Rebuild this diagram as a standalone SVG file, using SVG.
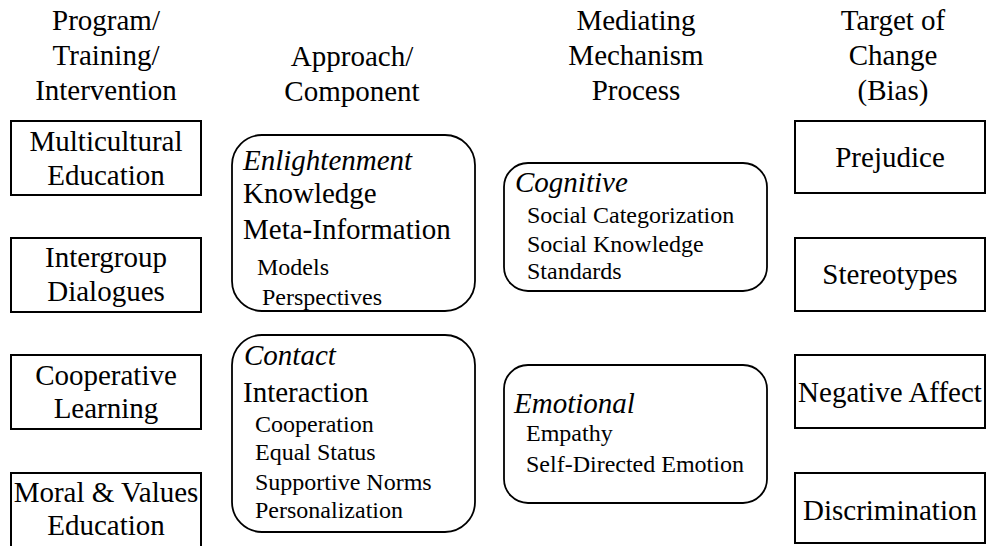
<svg xmlns="http://www.w3.org/2000/svg" width="987" height="546" viewBox="0 0 987 546">
  <rect width="987" height="546" fill="#fff"/>

  <!-- column headings -->
  <g id="headers">
    <text x="106" y="30" style="font-family:'Liberation Serif';font-size:29px;text-anchor:middle">Program/</text>
    <text x="106" y="65" style="font-family:'Liberation Serif';font-size:29px;text-anchor:middle">Training/</text>
    <text x="106" y="100" style="font-family:'Liberation Serif';font-size:29px;text-anchor:middle">Intervention</text>
    <text x="352" y="66" style="font-family:'Liberation Serif';font-size:29px;text-anchor:middle">Approach/</text>
    <text x="352" y="101" style="font-family:'Liberation Serif';font-size:29px;text-anchor:middle">Component</text>
    <text x="636" y="30" style="font-family:'Liberation Serif';font-size:29px;text-anchor:middle">Mediating</text>
    <text x="636" y="65" style="font-family:'Liberation Serif';font-size:29px;text-anchor:middle">Mechanism</text>
    <text x="636" y="100" style="font-family:'Liberation Serif';font-size:29px;text-anchor:middle">Process</text>
    <text x="893" y="30" style="font-family:'Liberation Serif';font-size:29px;text-anchor:middle">Target of</text>
    <text x="893" y="65" style="font-family:'Liberation Serif';font-size:29px;text-anchor:middle">Change</text>
    <text x="893" y="100" style="font-family:'Liberation Serif';font-size:29px;text-anchor:middle">(Bias)</text>
  </g>

  <!-- programs -->
  <g id="multicultural-education">
    <rect x="11" y="121" width="190" height="74" fill="#fff" stroke="#000" stroke-width="2"/>
    <text x="106" y="151" style="font-family:'Liberation Serif';font-size:29px;text-anchor:middle">Multicultural</text>
    <text x="106" y="185" style="font-family:'Liberation Serif';font-size:29px;text-anchor:middle">Education</text>
  </g>
  <g id="intergroup-dialogues">
    <rect x="11" y="238" width="190" height="74" fill="#fff" stroke="#000" stroke-width="2"/>
    <text x="106" y="267" style="font-family:'Liberation Serif';font-size:29px;text-anchor:middle">Intergroup</text>
    <text x="106" y="301" style="font-family:'Liberation Serif';font-size:29px;text-anchor:middle">Dialogues</text>
  </g>
  <g id="cooperative-learning">
    <rect x="11" y="355" width="190" height="74" fill="#fff" stroke="#000" stroke-width="2"/>
    <text x="106" y="385" style="font-family:'Liberation Serif';font-size:29px;text-anchor:middle">Cooperative</text>
    <text x="106" y="418" style="font-family:'Liberation Serif';font-size:29px;text-anchor:middle">Learning</text>
  </g>
  <g id="moral-values-education">
    <rect x="11" y="473" width="190" height="76" fill="#fff" stroke="#000" stroke-width="2"/>
    <text x="106" y="502" style="font-family:'Liberation Serif';font-size:29px;text-anchor:middle">Moral &amp; Values</text>
    <text x="106" y="535" style="font-family:'Liberation Serif';font-size:29px;text-anchor:middle">Education</text>
  </g>

  <!-- approaches -->
  <g id="enlightenment">
    <rect x="232" y="135" width="243" height="176" rx="30" ry="30" fill="#fff" stroke="#000" stroke-width="1.8"/>
    <text x="243" y="170" style="font-family:'Liberation Serif';font-size:29px;font-style:italic">Enlightenment</text>
    <text x="243" y="203" style="font-family:'Liberation Serif';font-size:29px">Knowledge</text>
    <text x="243" y="239" style="font-family:'Liberation Serif';font-size:29px">Meta-Information</text>
    <text x="257" y="275" style="font-family:'Liberation Serif';font-size:24px">Models</text>
    <text x="262" y="305" style="font-family:'Liberation Serif';font-size:24px">Perspectives</text>
  </g>
  <g id="contact">
    <rect x="232" y="335" width="243" height="197" rx="30" ry="30" fill="#fff" stroke="#000" stroke-width="1.8"/>
    <text x="244" y="365" style="font-family:'Liberation Serif';font-size:29px;font-style:italic">Contact</text>
    <text x="243" y="402" style="font-family:'Liberation Serif';font-size:29px">Interaction</text>
    <text x="255" y="432" style="font-family:'Liberation Serif';font-size:24px">Cooperation</text>
    <text x="255" y="460" style="font-family:'Liberation Serif';font-size:24px">Equal Status</text>
    <text x="255" y="490" style="font-family:'Liberation Serif';font-size:24px">Supportive Norms</text>
    <text x="255" y="518" style="font-family:'Liberation Serif';font-size:24px">Personalization</text>
  </g>

  <!-- mechanisms -->
  <g id="cognitive">
    <rect x="504" y="163" width="263" height="128" rx="24" ry="24" fill="#fff" stroke="#000" stroke-width="1.8"/>
    <text x="515" y="192" style="font-family:'Liberation Serif';font-size:29px;font-style:italic">Cognitive</text>
    <text x="527" y="223" style="font-family:'Liberation Serif';font-size:24px">Social Categorization</text>
    <text x="527" y="252" style="font-family:'Liberation Serif';font-size:24px">Social Knowledge</text>
    <text x="527" y="279" style="font-family:'Liberation Serif';font-size:24px">Standards</text>
  </g>
  <g id="emotional">
    <rect x="504" y="365" width="263" height="138" rx="24" ry="24" fill="#fff" stroke="#000" stroke-width="1.8"/>
    <text x="514" y="413" style="font-family:'Liberation Serif';font-size:29px;font-style:italic">Emotional</text>
    <text x="526" y="441" style="font-family:'Liberation Serif';font-size:24px">Empathy</text>
    <text x="526" y="472" style="font-family:'Liberation Serif';font-size:24px">Self-Directed Emotion</text>
  </g>

  <!-- targets -->
  <g id="prejudice">
    <rect x="795" y="121" width="190" height="72" fill="#fff" stroke="#000" stroke-width="2"/>
    <text x="890" y="167" style="font-family:'Liberation Serif';font-size:29px;text-anchor:middle">Prejudice</text>
  </g>
  <g id="stereotypes">
    <rect x="795" y="238" width="190" height="73" fill="#fff" stroke="#000" stroke-width="2"/>
    <text x="890" y="284" style="font-family:'Liberation Serif';font-size:29px;text-anchor:middle">Stereotypes</text>
  </g>
  <g id="negative-affect">
    <rect x="795" y="355" width="190" height="73" fill="#fff" stroke="#000" stroke-width="2"/>
    <text x="890" y="402" style="font-family:'Liberation Serif';font-size:29px;text-anchor:middle">Negative Affect</text>
  </g>
  <g id="discrimination">
    <rect x="795" y="473" width="190" height="70" fill="#fff" stroke="#000" stroke-width="2"/>
    <text x="890" y="520" style="font-family:'Liberation Serif';font-size:29px;text-anchor:middle">Discrimination</text>
  </g>
</svg>
